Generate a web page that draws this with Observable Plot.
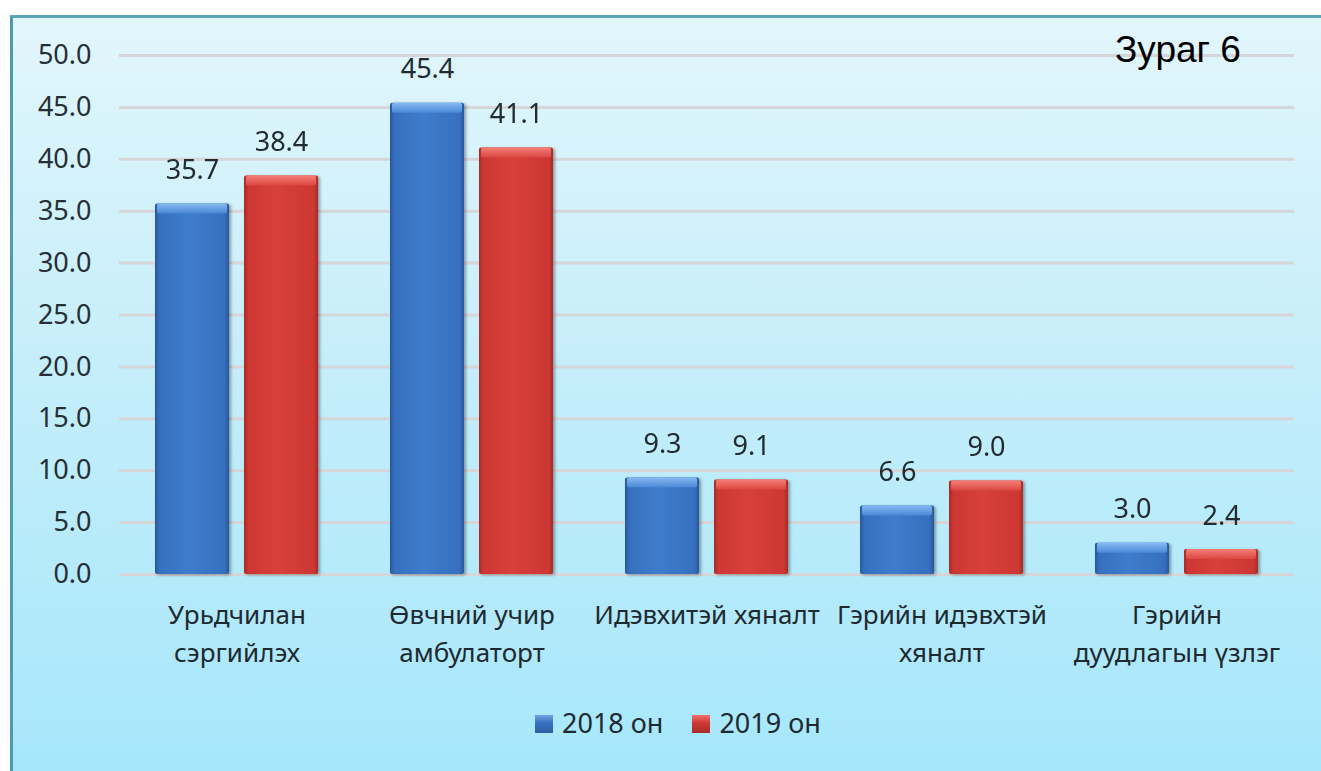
<!DOCTYPE html>
<html>
<head>
<meta charset="utf-8">
<script src="https://cdn.jsdelivr.net/npm/d3@7"></script>
<script src="https://cdn.jsdelivr.net/npm/@observablehq/plot@0.6"></script>
<style>
  html, body { margin: 0; padding: 0; background: #ffffff; width: 1321px; height: 771px; overflow: hidden; }
  #frame { position: absolute; left: 10px; top: 15px; width: 1311px; height: 756px; box-sizing: border-box;
    border-left: 3px solid #4f9bad; border-top: 3px solid #5aa5b6;
    background: linear-gradient(180deg, #e2f6fc 0%, #c6eefa 45%, #a6e7fb 100%); }
  #chart { position: absolute; left: 0; top: 0; }
  #title { position: absolute; left: 1115px; top: 31px; font-family: "Liberation Sans", Arial, sans-serif; font-size: 37px; line-height: 1; color: #000; white-space: nowrap; }
  #legend { position: absolute; left: 535px; top: 709px; font-family: "Noto Sans", sans-serif; font-size: 27px; line-height: 1; color: #1e2930; display: flex; align-items: center; white-space: nowrap; }
  .sw { width: 18px; height: 18px; display: inline-block; margin-right: 9px; margin-top: 2px; }
  .item { display: flex; align-items: center; margin-right: 29px; }
</style>
</head>
<body>
<div id="frame"></div>
<div id="chart"></div>
<div id="title">Зураг 6</div>
<div id="legend"></div>
<script>
const categories = ["Урьдчилан сэргийлэх", "Өвчний учир амбулаторт", "Идэвхитэй хяналт", "Гэрийн идэвхтэй хяналт", "Гэрийн дуудлагын үзлэг"];
const categoryLabels = ["Урьдчилан\nсэргийлэх", "Өвчний учир\nамбулаторт", "Идэвхитэй хяналт", "Гэрийн идэвхтэй\nхяналт", "Гэрийн\nдуудлагын үзлэг"];
const years = ["2018", "2019"];
const legendLabels = ["2018 он", "2019 он"];
const values2018 = [35.7, 45.4, 9.3, 6.6, 3.0];
const values2019 = [38.4, 41.1, 9.1, 9.0, 2.4];
const yTicks = [0, 5, 10, 15, 20, 25, 30, 35, 40, 45, 50];

const rows = categories.flatMap((c, i) => [
  {category: c, year: years[0], value: values2018[i]},
  {category: c, year: years[1], value: values2019[i]}
]);
const labelOf = new Map(categories.map((c, i) => [c, categoryLabels[i]]));
const bodyFill = {"2018": "url(#gBlue)", "2019": "url(#gRed)"};
const topFill = {"2018": "url(#tBlue)", "2019": "url(#tRed)"};
const fmt = d3.format(".1f");

const plot = Plot.plot({
  width: 1321,
  height: 680,
  marginLeft: 118,
  marginRight: 26,
  marginTop: 55,
  marginBottom: 106,
  style: {background: "transparent", fontFamily: "Noto Sans, sans-serif", color: "#222b30", overflow: "visible"},
  fx: {domain: categories, padding: 0, label: null},
  x: {domain: years, paddingInner: 0.1685, paddingOuter: 0.404, axis: null},
  y: {domain: [0, 50], label: null},
  marks: [
    Plot.gridY(yTicks, {stroke: "#d6d5d9", strokeWidth: 3, strokeOpacity: 1}),
    Plot.axisY(yTicks, {tickSize: 0, tickPadding: 28, fontSize: 27, tickFormat: fmt, fill: "#252f35", label: null}),
    Plot.barY(rows, {fx: "category", x: "year", y: "value", fill: d => bodyFill[d.year], rx: 2}),
    Plot.barY(rows, {fx: "category", x: "year", y1: "value", y2: "value", insetBottom: -10, insetLeft: 2, insetRight: 2, fill: d => topFill[d.year], rx: 2}),
    Plot.text(rows, {fx: "category", x: "year", y: "value", text: d => fmt(d.value), lineAnchor: "bottom", dy: -25, fontSize: 27, fill: "#222b30"}),
    Plot.axisFx({anchor: "bottom", tickSize: 0, tickPadding: 23, fontSize: 26, lineHeight: 1.45, tickFormat: d => labelOf.get(d), fill: "#1e2930", label: null})
  ]
});

const svg = d3.select(plot);
const defs = svg.insert("defs", ":first-child");
function hgrad(id, edge, mid, light) {
  const g = defs.append("linearGradient").attr("id", id).attr("x1", 0).attr("x2", 1).attr("y1", 0).attr("y2", 0);
  [[0, edge], [0.06, mid], [0.45, light], [0.94, mid], [1, edge]].forEach(([o, c]) => g.append("stop").attr("offset", o).attr("stop-color", c));
}
function vgrad(id, top, bottom) {
  const g = defs.append("linearGradient").attr("id", id).attr("x1", 0).attr("x2", 0).attr("y1", 0).attr("y2", 1);
  g.append("stop").attr("offset", 0).attr("stop-color", top);
  g.append("stop").attr("offset", 1).attr("stop-color", bottom);
}
hgrad("gBlue", "#28579a", "#3670bf", "#3f7ccb");
hgrad("gRed", "#a82b28", "#cc3733", "#d8403b");
vgrad("tBlue", "#85baf2", "#4a87d4");
vgrad("tRed", "#f47f78", "#db4741");
const f = defs.append("filter").attr("id", "shadow").attr("x", "-10%").attr("y", "-10%").attr("width", "130%").attr("height", "130%");
f.append("feDropShadow").attr("dx", 2).attr("dy", 1).attr("stdDeviation", 1.5).attr("flood-color", "#000").attr("flood-opacity", 0.35);
svg.selectAll("g[aria-label='bar']").filter((d, i) => i === 0).attr("filter", "url(#shadow)");

document.getElementById("chart").appendChild(plot);

const legend = d3.select("#legend");
years.forEach((y, i) => {
  const item = legend.append("div").attr("class", "item");
  item.append("span").attr("class", "sw")
    .style("background", i === 0 ? "linear-gradient(180deg,#6fa6e6 0%,#3a74c2 40%,#2d5fa3 100%)" : "linear-gradient(180deg,#f0716b 0%,#d23c37 40%,#a92c29 100%)");
  item.append("span").text(legendLabels[i]);
});
</script>
</body>
</html>
